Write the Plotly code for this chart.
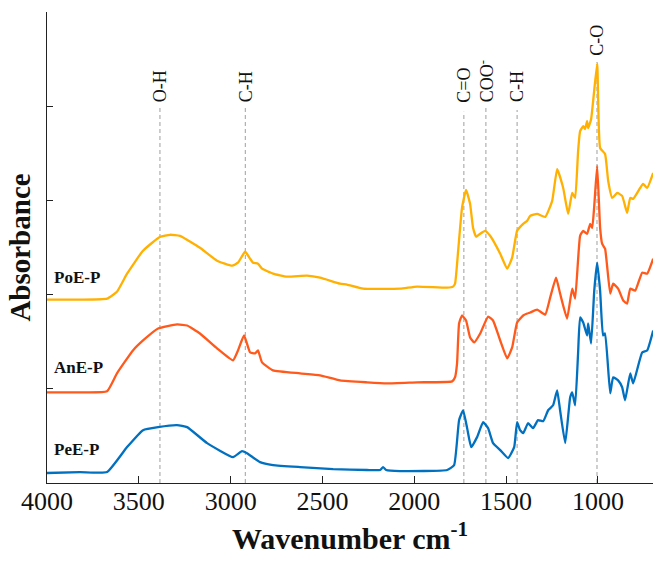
import plotly.graph_objects as go

# ---------------- data ----------------
poe_wavenumber = [4000, 3820, 3673, 3619, 3564, 3477, 3384, 3330, 3276, 3167, 3074, 2992, 2960,
                  2921, 2894, 2878, 2851, 2829, 2769, 2693, 2584, 2513, 2404, 2366, 2279, 2077,
                  1985, 1821, 1789, 1778, 1761, 1740, 1718, 1696, 1680, 1663, 1641, 1614, 1587,
                  1532, 1494, 1467, 1440, 1407, 1385, 1369, 1331, 1287, 1249, 1222, 1189, 1162,
                  1140, 1124, 1108, 1097, 1080, 1070, 1059, 1053, 1037, 1026, 1004, 988, 961,
                  944, 922, 895, 868, 841, 824, 808, 770, 754, 732, 699]
poe_absorbance = [1.947, 1.947, 1.958, 2.030, 2.222, 2.466, 2.614, 2.635, 2.624, 2.497, 2.360,
                  2.307, 2.339, 2.455, 2.381, 2.339, 2.328, 2.275, 2.222, 2.190, 2.201, 2.180,
                  2.116, 2.106, 2.063, 2.063, 2.085, 2.074, 2.085, 2.116, 2.466, 2.921, 3.111,
                  2.963, 2.709, 2.614, 2.646, 2.677, 2.624, 2.434, 2.275, 2.392, 2.677, 2.751,
                  2.783, 2.836, 2.857, 2.825, 2.995, 3.333, 3.132, 2.857, 3.079, 3.026, 3.520,
                  3.735, 3.788, 3.757, 3.841, 3.767, 3.862, 4.053, 4.455, 3.556, 3.492, 3.206,
                  3.026, 3.079, 3.048, 2.868, 3.026, 3.016, 3.132, 3.175, 3.132, 3.291]

ane_wavenumber = [4000, 3820, 3673, 3619, 3532, 3477, 3395, 3292, 3237, 3167, 3074, 2987, 2960,
                  2927, 2894, 2867, 2851, 2829, 2769, 2622, 2513, 2404, 2257, 2148, 1985, 1794,
                  1778, 1767, 1756, 1740, 1718, 1696, 1674, 1641, 1598, 1571, 1532, 1494, 1467,
                  1440, 1407, 1385, 1369, 1331, 1287, 1260, 1228, 1206, 1168, 1140, 1124, 1097,
                  1080, 1059, 1042, 1031, 1020, 1004, 988, 977, 961, 933, 917, 890, 862, 841,
                  824, 797, 759, 732, 699]
ane_absorbance = [0.963, 0.963, 0.974, 1.164, 1.407, 1.513, 1.640, 1.683, 1.672, 1.587, 1.429,
                  1.302, 1.407, 1.566, 1.386, 1.376, 1.407, 1.280, 1.196, 1.164, 1.143, 1.090,
                  1.069, 1.058, 1.069, 1.079, 1.122, 1.270, 1.693, 1.778, 1.725, 1.545, 1.492,
                  1.587, 1.767, 1.725, 1.513, 1.323, 1.439, 1.704, 1.778, 1.799, 1.810, 1.841,
                  1.788, 1.968, 2.180, 2.011, 1.746, 2.063, 1.958, 2.624, 2.677, 2.646, 2.751,
                  2.709, 2.940, 3.365, 2.709, 2.540, 2.487, 2.011, 2.116, 2.063, 1.937, 1.905,
                  2.063, 2.042, 2.233, 2.222, 2.381]

pee_wavenumber = [4000, 3820, 3673, 3564, 3477, 3395, 3292, 3237, 3128, 2987, 2938, 2911, 2840,
                  2769, 2622, 2442, 2257, 2186, 2170, 2153, 2077, 1821, 1783, 1756, 1734, 1712,
                  1690, 1658, 1625, 1598, 1571, 1532, 1489, 1456, 1440, 1424, 1407, 1380, 1353,
                  1326, 1298, 1271, 1244, 1222, 1206, 1178, 1151, 1140, 1124, 1108, 1097, 1080,
                  1059, 1053, 1037, 1020, 1004, 988, 972, 961, 933, 917, 890, 868, 852, 824,
                  808, 759, 732, 699]
pee_absorbance = [0.106, 0.116, 0.116, 0.381, 0.561, 0.593, 0.614, 0.593, 0.423, 0.275, 0.339,
                  0.317, 0.222, 0.190, 0.169, 0.148, 0.138, 0.138, 0.169, 0.138, 0.127, 0.138,
                  0.190, 0.667, 0.772, 0.582, 0.381, 0.487, 0.646, 0.582, 0.423, 0.349, 0.265,
                  0.381, 0.646, 0.561, 0.529, 0.635, 0.582, 0.667, 0.656, 0.772, 0.825, 0.984,
                  0.772, 0.423, 0.910, 0.963, 0.825, 1.376, 1.757, 1.704, 1.566, 1.693, 1.481,
                  2.040, 2.339, 2.042, 1.566, 1.587, 0.952, 1.122, 1.090, 1.016, 0.878, 1.164,
                  1.058, 1.386, 1.407, 1.619]

series_names = ["PoE-P", "AnE-P", "PeE-P"]

band_labels = ["O-H", "C-H", "C=O", "COO<sup>-</sup>", "C-H", "C-O"]
band_wavenumbers = [3385, 2920, 1730, 1610, 1440, 1005]

x_tick_values = [4000, 3500, 3000, 2500, 2000, 1500, 1000]
x_tick_labels = ["4000", "3500", "3000", "2500", "2000", "1500", "1000"]

# ---------------- styling / layout ----------------
colors = ["#FFB000", "#FF5A1C", "#0070C0"]
serif = "Liberation Serif, Times New Roman, serif"
line_tops = [3.98, 3.98, 3.94, 3.98, 3.96, 4.47]     # where each dashed guide starts
label_bottoms = [4.02, 4.02, 4.02, 4.02, 4.02, 4.52]
name_positions = [2.18, 1.23, 0.36]

fig = go.Figure()

for xs, ys, c, n in zip([poe_wavenumber, ane_wavenumber, pee_wavenumber],
                        [poe_absorbance, ane_absorbance, pee_absorbance],
                        colors, series_names):
    fig.add_trace(go.Scatter(x=xs, y=ys, mode="lines", name=n,
                             line=dict(color=c, width=2.3, shape="spline", smoothing=0.4),
                             showlegend=False, hoverinfo="skip"))

shapes = []
annotations = []
for wn, lab, top, lb in zip(band_wavenumbers, band_labels, line_tops, label_bottoms):
    shapes.append(dict(type="line", xref="x", yref="y", x0=wn, x1=wn, y0=0, y1=top,
                       line=dict(color="#A8A8A8", width=1.1, dash="4px,3px"), layer="below"))
    annotations.append(dict(x=wn, y=lb, xref="x", yref="y", text=lab, showarrow=False,
                            textangle=-90, xanchor="center", yanchor="bottom",
                            font=dict(family=serif, size=18, color="#111111")))

for n, yp in zip(series_names, name_positions):
    annotations.append(dict(x=3975, y=yp, xref="x", yref="y", text="<b>" + n + "</b>",
                            showarrow=False, xanchor="left", yanchor="middle",
                            font=dict(family=serif, size=17, color="#111111")))

fig.update_layout(
    width=653, height=562,
    margin=dict(l=47, r=0, t=12, b=79),
    paper_bgcolor="white", plot_bgcolor="white",
    shapes=shapes, annotations=annotations,
    xaxis=dict(range=[4000, 700], tickmode="array", tickvals=x_tick_values,
               ticktext=x_tick_labels, ticks="inside", ticklen=7, tickcolor="#222222",
               showline=True, linecolor="#222222", linewidth=1.2, showgrid=False,
               zeroline=False, ticklabelstandoff=-5,
               tickfont=dict(family=serif, size=26, color="#111111"),
               title=dict(text="<b>Wavenumber cm<sup>-1</sup></b>", standoff=12,
                          font=dict(family=serif, size=30, color="#111111"))),
    yaxis=dict(range=[0, 5], tickmode="array", tickvals=[1, 2, 3, 4, 5],
               showticklabels=False, ticks="inside", ticklen=6, tickcolor="#222222",
               showline=True, linecolor="#222222", linewidth=1.2, showgrid=False,
               zeroline=False,
               title=dict(text="<b>Absorbance</b>", standoff=6,
                          font=dict(family=serif, size=29, color="#111111"))),
)

fig.write_html("out.html")
